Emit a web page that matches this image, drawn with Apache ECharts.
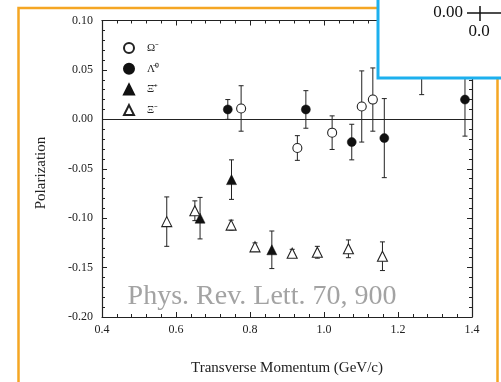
<!DOCTYPE html>
<html>
<head>
<meta charset="utf-8">
<script src="https://cdn.jsdelivr.net/npm/echarts@6/dist/echarts.min.js"></script>
<style>
html,body{margin:0;padding:0;background:#fff;}
#main{width:501px;height:382px;}
</style>
</head>
<body>
<div id="main"></div>
<script>
// ---- data ----
var seriesNames = ['Ω\u207B', 'Λ\u0304\u2070', 'Ξ\u0304\u207A', 'Ξ\u207B'];

var omegaX   = [0.776, 0.928, 1.022, 1.102, 1.132, 1.264];
var omegaY   = [0.011, -0.029, -0.0135, 0.013, 0.020, 0.060];
var omegaErr = [0.023, 0.0125, 0.017, 0.036, 0.032, 0.035];

var lambdaX   = [0.740, 0.951, 1.075, 1.163, 1.381];
var lambdaY   = [0.010, 0.010, -0.023, -0.019, 0.020];
var lambdaErr = [0.010, 0.019, 0.018, 0.040, 0.037];

var xiPlusX   = [0.665, 0.750, 0.859];
var xiPlusY   = [-0.100, -0.061, -0.132];
var xiPlusErr = [0.021, 0.020, 0.019];

var xiMinusX   = [0.575, 0.651, 0.749, 0.8135, 0.914, 0.982, 1.066, 1.158];
var xiMinusY   = [-0.1035, -0.0925, -0.107, -0.129, -0.1355, -0.1345, -0.131, -0.1385];
var xiMinusErr = [0.025, 0.010, 0.005, 0.004, 0.004, 0.006, 0.009, 0.0145];

var xTicks = {min: 0.4, max: 1.4, interval: 0.2};
var yTicks = {min: -0.20, max: 0.10, interval: 0.05};

var watermark = 'Phys. Rev. Lett. 70, 900';
var xTitle = 'Transverse Momentum (GeV/c)';
var yTitle = 'Polarization';
var insetYLabel = '0.00';
var insetXLabel = '0.0';

// ---- helpers ----
function pts(xs, ys) { return xs.map(function (x, i) { return [x, ys[i]]; }); }
function errPts(xs, ys, es) { return xs.map(function (x, i) { return [x, ys[i] - es[i], ys[i] + es[i]]; }); }

var FONT = 'Liberation Serif';
var INK = '#222';

function errorSeries(xs, ys, es) {
  return {
    type: 'custom',
    silent: true,
    z: 1,
    data: errPts(xs, ys, es),
    renderItem: function (params, api) {
      var x = api.value(0);
      var lo = api.coord([x, api.value(1)]);
      var hi = api.coord([x, api.value(2)]);
      var c = 2.5;
      var st = {stroke: INK, lineWidth: 1};
      return {
        type: 'group',
        children: [
          {type: 'line', shape: {x1: lo[0], y1: lo[1], x2: hi[0], y2: hi[1]}, style: st},
          {type: 'line', shape: {x1: lo[0] - c, y1: lo[1], x2: lo[0] + c, y2: lo[1]}, style: st},
          {type: 'line', shape: {x1: hi[0] - c, y1: hi[1], x2: hi[0] + c, y2: hi[1]}, style: st}
        ]
      };
    }
  };
}

function axisCommon() {
  return {
    axisLine: {show: true, onZero: false, lineStyle: {color: INK, width: 1.2}},
    axisTick: {show: true, inside: true, length: 5, lineStyle: {color: INK}},
    minorTick: {show: true, splitNumber: 5, length: 3, lineStyle: {color: INK}},
    splitLine: {show: false},
    minorSplitLine: {show: false}
  };
}

var chart = echarts.init(document.getElementById('main'), null, {renderer: 'canvas'});

var option = {
  backgroundColor: '#fff',
  animation: false,
  grid: {left: 102, top: 20.5, right: 29, bottom: 65},
  xAxis: [
    Object.assign({}, axisCommon(), {
      type: 'value', position: 'bottom', min: xTicks.min, max: xTicks.max, interval: xTicks.interval,
      axisLabel: {show: true, margin: 7, color: INK, fontFamily: FONT, fontSize: 12,
        formatter: function (v) { return v.toFixed(1); }},
      name: xTitle, nameLocation: 'middle', nameGap: 44,
      nameTextStyle: {color: INK, fontFamily: FONT, fontSize: 15}
    }),
    Object.assign({}, axisCommon(), {
      type: 'value', position: 'top', min: xTicks.min, max: xTicks.max, interval: xTicks.interval,
      axisLabel: {show: false}
    })
  ],
  yAxis: [
    Object.assign({}, axisCommon(), {
      type: 'value', position: 'left', min: yTicks.min, max: yTicks.max, interval: yTicks.interval,
      axisLabel: {show: true, margin: 9, color: INK, fontFamily: FONT, fontSize: 12,
        formatter: function (v) { return v.toFixed(2); }}
    }),
    Object.assign({}, axisCommon(), {
      type: 'value', position: 'right', min: yTicks.min, max: yTicks.max, interval: yTicks.interval,
      axisLabel: {show: false}
    })
  ],
  legend: {
    data: seriesNames,
    orient: 'vertical',
    left: 118,
    top: 37,
    itemWidth: 10,
    itemHeight: 10,
    itemGap: 8.7,
    selectedMode: false,
    textStyle: {color: INK, fontFamily: FONT, fontSize: 11, padding: [0, 0, 0, 8]}
  },
  series: [
    {
      name: seriesNames[0], type: 'scatter', symbol: 'circle', symbolSize: 9, z: 3,
      itemStyle: {color: '#fff', borderColor: INK, borderWidth: 1.1, opacity: 1},
      data: pts(omegaX, omegaY),
      markLine: {
        silent: true, symbol: 'none', label: {show: false},
        lineStyle: {color: INK, width: 1, type: 'solid'},
        data: [{yAxis: 0}]
      }
    },
    {
      name: seriesNames[1], type: 'scatter', symbol: 'circle', symbolSize: 9, z: 3,
      itemStyle: {color: '#111', borderColor: '#111', borderWidth: 0.5, opacity: 1},
      data: pts(lambdaX, lambdaY)
    },
    {
      name: seriesNames[2], type: 'scatter', symbol: 'triangle', symbolSize: 10, z: 3,
      itemStyle: {color: '#111', borderColor: '#111', borderWidth: 0.5, opacity: 1},
      data: pts(xiPlusX, xiPlusY)
    },
    {
      name: seriesNames[3], type: 'scatter', symbol: 'triangle', symbolSize: 10, z: 3,
      itemStyle: {color: '#fff', borderColor: INK, borderWidth: 1.1, opacity: 1},
      data: pts(xiMinusX, xiMinusY)
    },
    errorSeries(omegaX, omegaY, omegaErr),
    errorSeries(lambdaX, lambdaY, lambdaErr),
    errorSeries(xiPlusX, xiPlusY, xiPlusErr),
    errorSeries(xiMinusX, xiMinusY, xiMinusErr)
  ],
  graphic: [
    {
      type: 'text', z: 50, x: 262, y: 297,
      style: {text: watermark, fill: '#a3a3a3', font: '28px "Liberation Serif"', textAlign: 'center', textVerticalAlign: 'middle'}
    },
    {
      type: 'text', z: 50, x: 41, y: 173, rotation: Math.PI / 2,
      style: {text: yTitle, fill: INK, font: '15px "Liberation Serif"', textAlign: 'center', textVerticalAlign: 'middle'}
    },
    {
      type: 'rect', z: 100, silent: true,
      shape: {x: 18.5, y: 8, width: 479, height: 400},
      style: {fill: 'none', stroke: '#f5a623', lineWidth: 2.5}
    },
    {
      type: 'rect', z: 101, silent: true,
      shape: {x: 378, y: -10, width: 200, height: 88},
      style: {fill: '#fff', stroke: '#1cb0ee', lineWidth: 3}
    },
    {
      type: 'text', z: 102, silent: true, x: 463, y: 13,
      style: {text: insetYLabel, fill: '#111', font: '17px "Liberation Serif"', textAlign: 'right', textVerticalAlign: 'middle'}
    },
    {
      type: 'text', z: 102, silent: true, x: 479, y: 32,
      style: {text: insetXLabel, fill: '#111', font: '17px "Liberation Serif"', textAlign: 'center', textVerticalAlign: 'middle'}
    },
    {
      type: 'line', z: 102, silent: true,
      shape: {x1: 467, y1: 13, x2: 501, y2: 13},
      style: {stroke: '#111', lineWidth: 1.5}
    },
    {
      type: 'line', z: 102, silent: true,
      shape: {x1: 480, y1: 6, x2: 480, y2: 21},
      style: {stroke: '#111', lineWidth: 1.5}
    }
  ]
};

chart.setOption(option);
</script>
</body>
</html>
